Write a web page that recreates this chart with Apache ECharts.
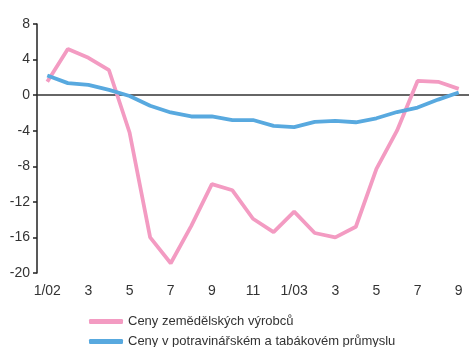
<!DOCTYPE html>
<html>
<head>
<meta charset="utf-8">
<script src="https://cdn.jsdelivr.net/npm/echarts@6/dist/echarts.min.js"></script>
<style>
  html, body { margin: 0; padding: 0; background: #fff; }
  #chart { width: 471px; height: 347px; }
</style>
</head>
<body>
<div id="chart"></div>
<script>
// Months from 1/2002 to 9/2003
const months = ['1/02','2','3','4','5','6','7','8','9','10','11','12',
                '1/03','2','3','4','5','6','7','8','9'];

// Year-on-year price change, %
const agriPrices = [1.5, 5.2, 4.2, 2.8, -4.2, -16.0, -18.9, -14.7, -10.0, -10.7, -13.9,
                    -15.4, -13.1, -15.5, -16.0, -14.8, -8.3, -4.0, 1.6, 1.5, 0.7];
const foodIndustryPrices = [2.2, 1.35, 1.15, 0.6, -0.1, -1.2, -1.95, -2.4, -2.4, -2.8, -2.8,
                            -3.45, -3.6, -3.0, -2.9, -3.05, -2.6, -1.9, -1.4, -0.5, 0.3];

const seriesNames = ['Ceny zemědělských výrobců',
                     'Ceny v potravinářském a tabákovém průmyslu'];

const yTicks = { min: -20, max: 8, interval: 4 };

const font = '"Liberation Sans Narrow", "Liberation Sans", sans-serif';
const pink = '#F39BC2';
const blue = '#58A9DF';

// One legend block per series, stacked under the plot
function legendRow(name, top) {
  return {
    orient: 'vertical',
    left: 84,
    top: top,
    itemWidth: 34,
    itemHeight: 5,
    itemGap: 0,
    icon: 'roundRect',
    textStyle: { color: '#333', fontSize: 13, fontFamily: font },
    data: [name]
  };
}

const chart = echarts.init(document.getElementById('chart'));
chart.setOption({
  animation: false,
  grid: { left: 37, top: 24, width: 432, height: 249 },
  xAxis: {
    type: 'category',
    data: months,
    boundaryGap: true,
    axisLine: { show: false },
    axisTick: { show: false },
    axisLabel: {
      interval: 1,
      margin: 11,
      color: '#333',
      fontSize: 14,
      fontFamily: font
    }
  },
  yAxis: {
    type: 'value',
    min: yTicks.min,
    max: yTicks.max,
    interval: yTicks.interval,
    splitLine: { show: false },
    axisLine: { show: true, lineStyle: { color: '#222', width: 1.5 } },
    axisTick: { show: true, length: 4, lineStyle: { color: '#222', width: 1.5 } },
    axisLabel: { color: '#333', fontSize: 14, fontFamily: font, margin: 7 }
  },
  legend: [legendRow(seriesNames[0], 310), legendRow(seriesNames[1], 330)],
  series: [
    {
      name: seriesNames[0],
      type: 'line',
      data: agriPrices,
      symbol: 'none',
      lineStyle: { color: pink, width: 3.8 },
      itemStyle: { color: pink },
      z: 3
    },
    {
      name: seriesNames[1],
      type: 'line',
      data: foodIndustryPrices,
      symbol: 'none',
      lineStyle: { color: blue, width: 3.8 },
      itemStyle: { color: blue },
      z: 4,
      markLine: {
        silent: true,
        symbol: 'none',
        label: { show: false },
        lineStyle: { color: '#333', width: 1.5, type: 'solid' },
        data: [{ yAxis: 0 }],
        z: 1
      }
    }
  ]
});
</script>
</body>
</html>
